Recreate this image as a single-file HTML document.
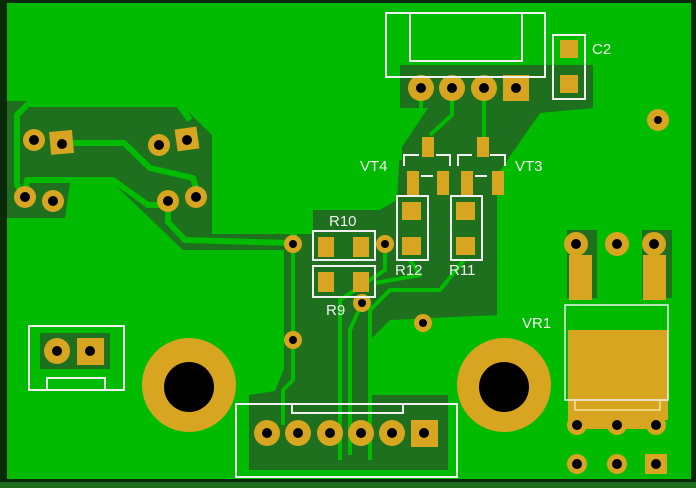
<!DOCTYPE html>
<html><head><style>html,body{margin:0;padding:0;background:#1c6e1c}svg{display:block}</style></head><body>
<svg width="696" height="488" viewBox="0 0 696 488" xmlns="http://www.w3.org/2000/svg" font-family="Liberation Sans, sans-serif">
<rect width="696" height="488" fill="#1c6e1c"/>
<rect x="0" y="0" width="696" height="482" fill="#0a2a0a"/>
<rect x="7" y="3" width="684" height="476" fill="#00bb00"/>
<g fill="#1e6f1e">
<polygon points="7,101 177,101 212,135 212,234 290,234 290,250 183,250 113,183 70,183 65,218 7,218"/>
<polygon points="313,210 380,210 397,200 400,150 428,108 400,108 400,65 593,65 593,108 540,113 497,175 497,315 390,320 368,342 368,395 448,395 448,470 249,470 249,395 275,391 284,369 284,250 297,250 297,234 313,234"/>
<rect x="567" y="230" width="30" height="68"/>
<rect x="642" y="230" width="30" height="68"/>
<rect x="40" y="333" width="70" height="36"/>
</g>
<g fill="none" stroke="#00bb00" stroke-width="6" stroke-linejoin="round">
<polyline points="25,195 17,185 17,115 28,104 178,104 190,120"/>
<polyline points="62,143 124,143 150,168 193,178 198,195"/>
<polyline points="25,195 27,180 113,180 148,205 168,205"/>
<polyline points="168,200 168,222 185,240 290,243"/>
</g>
<g fill="none" stroke="#00bb00" stroke-width="4" stroke-linejoin="round">
<polyline points="293,244 293,340"/>
<polyline points="293,340 293,380 283,390 283,425"/>
<polyline points="385,244 385,270 340,300 340,460"/>
<polyline points="362,303 350,330 350,455"/>
<polyline points="421,88 421,110 400,140 400,160"/>
<polyline points="452,88 452,115 430,135"/>
<polyline points="484,88 484,140"/>
<polyline points="410,260 420,275 375,283"/>
<polyline points="464,260 440,290 390,290 370,310 370,460"/>
</g>
<g fill="#d8a520">
<circle cx="421" cy="88" r="13"/><circle cx="452" cy="88" r="13"/><circle cx="484" cy="88" r="13"/>
<rect x="503" y="75" width="26" height="26"/>
<rect x="560" y="40" width="18" height="18"/><rect x="560" y="75" width="18" height="18"/>
<circle cx="658" cy="120" r="11"/>
<rect x="422" y="137" width="12" height="20"/><rect x="407" y="171" width="12" height="24"/><rect x="437" y="171" width="12" height="24"/>
<rect x="477" y="137" width="12" height="20"/><rect x="461" y="171" width="12" height="24"/><rect x="492" y="171" width="12" height="24"/>
<rect x="402" y="202" width="19" height="18"/><rect x="402" y="237" width="19" height="18"/>
<rect x="456" y="202" width="19" height="18"/><rect x="456" y="237" width="19" height="18"/>
<rect x="318" y="237" width="16" height="20"/><rect x="353" y="237" width="16" height="20"/>
<rect x="318" y="272" width="16" height="20"/><rect x="353" y="272" width="16" height="20"/>
<circle cx="293" cy="244" r="9"/><circle cx="385" cy="244" r="9"/><circle cx="362" cy="303" r="9"/><circle cx="423" cy="323" r="9"/><circle cx="293" cy="340" r="9"/>
<circle cx="34" cy="140" r="11"/><rect x="50" y="131" width="23" height="23" transform="rotate(-5 61 142)"/>
<circle cx="159" cy="145" r="11"/><rect x="176" y="128" width="22" height="22" transform="rotate(-8 187 139)"/>
<circle cx="25" cy="197" r="11"/><circle cx="53" cy="201" r="11"/><circle cx="168" cy="201" r="11"/><circle cx="196" cy="197" r="11"/>
<circle cx="576" cy="244" r="12"/><circle cx="617" cy="244" r="12"/><circle cx="654" cy="244" r="12"/>
<rect x="569" y="255" width="23" height="45"/><rect x="643" y="255" width="23" height="45"/>
<rect x="568" y="330" width="100" height="90"/>
<circle cx="577" cy="425" r="10"/><circle cx="617" cy="425" r="10"/><circle cx="656" cy="425" r="10"/>
<rect x="577" y="415" width="79" height="14"/>
<circle cx="577" cy="464" r="10"/><circle cx="617" cy="464" r="10"/><rect x="645" y="454" width="22" height="20"/>
<circle cx="57" cy="351" r="13"/><rect x="77" y="338" width="27" height="27"/>
<ellipse cx="189" cy="385" rx="47" ry="47"/><ellipse cx="504" cy="385" rx="47" ry="47"/>
<circle cx="267" cy="433" r="13"/><circle cx="298" cy="433" r="13"/><circle cx="330" cy="433" r="13"/><circle cx="361" cy="433" r="13"/><circle cx="392" cy="433" r="13"/>
<rect x="411" y="420" width="27" height="27"/>
</g>
<g fill="#000">
<circle cx="421" cy="88" r="5"/><circle cx="452" cy="88" r="5"/><circle cx="484" cy="88" r="5"/><circle cx="516" cy="88" r="5"/>
<circle cx="658" cy="120" r="4"/>
<circle cx="293" cy="244" r="4"/><circle cx="385" cy="244" r="4"/><circle cx="362" cy="303" r="4"/><circle cx="423" cy="323" r="4"/><circle cx="293" cy="340" r="4"/>
<circle cx="34" cy="140" r="5"/><circle cx="62" cy="144" r="5"/><circle cx="159" cy="145" r="5"/><circle cx="187" cy="140" r="5"/>
<circle cx="25" cy="197" r="5"/><circle cx="53" cy="201" r="5"/><circle cx="168" cy="201" r="5"/><circle cx="196" cy="197" r="5"/>
<circle cx="576" cy="244" r="5"/><circle cx="617" cy="244" r="5"/><circle cx="654" cy="244" r="5"/>
<circle cx="577" cy="425" r="5"/><circle cx="617" cy="425" r="5"/><circle cx="656" cy="425" r="5"/>
<circle cx="577" cy="464" r="5"/><circle cx="617" cy="464" r="5"/><circle cx="656" cy="464" r="5"/>
<circle cx="57" cy="351" r="5"/><circle cx="90" cy="351" r="5"/>
<circle cx="189" cy="387" r="25"/><circle cx="504" cy="387" r="25"/>
<circle cx="267" cy="433" r="5"/><circle cx="298" cy="433" r="5"/><circle cx="330" cy="433" r="5"/><circle cx="361" cy="433" r="5"/><circle cx="392" cy="433" r="5"/><circle cx="424" cy="433" r="5"/>
</g>
<g fill="none" stroke="#f0f0f0" stroke-width="2">
<rect x="386" y="13" width="159" height="64"/><rect x="410" y="13" width="112" height="48"/>
<rect x="553" y="35" width="32" height="64"/>
<polyline points="404,166 404,155 419,155"/><polyline points="436,155 450,155 450,166"/><line x1="421" y1="176" x2="433" y2="176"/>
<polyline points="458,166 458,155 472,155"/><polyline points="490,155 505,155 505,166"/><line x1="475" y1="176" x2="487" y2="176"/>
<rect x="397" y="196" width="31" height="64"/><rect x="451" y="196" width="31" height="64"/>
<rect x="313" y="231" width="62" height="29"/><rect x="313" y="266" width="62" height="31"/>
<rect x="29" y="326" width="95" height="64"/><polyline points="47,390 47,378 105,378 105,390"/>
<rect x="236" y="404" width="221" height="73"/><polyline points="292,404 292,413 403,413 403,404"/>
<rect x="565" y="305" width="103" height="95" stroke-width="1.5"/>
<polyline points="575,400 575,410 660,410 660,400" stroke="#f5e0a0" stroke-width="1.5"/>
</g>
<g fill="#f0f0f0" font-size="15">
<text x="592" y="54">C2</text>
<text x="360" y="171">VT4</text>
<text x="515" y="171">VT3</text>
<text x="329" y="226">R10</text>
<text x="395" y="275">R12</text>
<text x="449" y="275">R11</text>
<text x="326" y="315">R9</text>
<text x="522" y="328">VR1</text>
</g>
</svg>
</body></html>
